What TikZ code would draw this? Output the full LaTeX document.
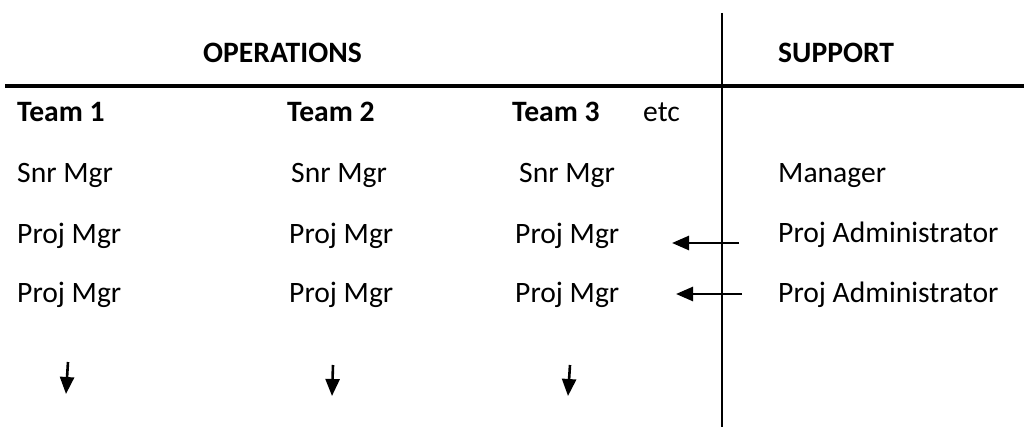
\documentclass[tikz,border=0pt]{standalone}
\usepackage{fontspec}
\setmainfont{Carlito}
\usetikzlibrary{arrows.meta}
\begin{document}
\begin{tikzpicture}[x=1pt,y=-1pt,
  lbl/.style={anchor=base west,inner sep=0pt,font=\fontsize{29.6}{34}\selectfont},
  hdr/.style={lbl,font=\fontsize{29.6}{34}\selectfont\bfseries},
  conn/.style={line width=2.6pt,-{Triangle[length=17pt,width=14pt]}}]
\useasboundingbox (0,0) rectangle (1024,427);
% dividers
\coordinate (vtop) at (722,13);
\coordinate (vbot) at (722,427);
\coordinate (hl) at (5,86);
\coordinate (hr) at (1024,86);
\draw[line width=1.2pt] (vtop) -- (vbot);
\draw[line width=4.2pt] (hl) -- (hr);
% headers
\node[hdr] (ops) at (203,63) {OPERATIONS};
\node[hdr] (sup) at (778,63) {SUPPORT};
\node[hdr] (t1) at (17,122) {Team 1};
\node[hdr] (t2) at (287,122) {Team 2};
\node[hdr] (t3) at (512,122) {Team 3};
\node[lbl] (etc) at (643,122) {etc};
% rows
\node[lbl] (s1) at (17,183) {Snr Mgr};
\node[lbl] (s2) at (291,183) {Snr Mgr};
\node[lbl] (s3) at (519,183) {Snr Mgr};
\node[lbl] (mgr) at (778,183) {Manager};
\node[lbl] (p11) at (17,244) {Proj Mgr};
\node[lbl] (p12) at (289,244) {Proj Mgr};
\node[lbl] (p13) at (515,244) {Proj Mgr};
\node[lbl] (pa1) at (778,243) {Proj Administrator};
\node[lbl] (p21) at (17,302) {Proj Mgr};
\node[lbl] (p22) at (289,302) {Proj Mgr};
\node[lbl] (p23) at (515,302) {Proj Mgr};
\node[lbl] (pa2) at (778,302) {Proj Administrator};
% arrow ends
\coordinate (a1s) at (739,243);
\coordinate (a1e) at (672,243);
\coordinate (a2s) at (742,294);
\coordinate (a2e) at (676,294);
\coordinate (d1s) at (68,362);
\coordinate (d1e) at (66,394);
\coordinate (d2s) at (333,365);
\coordinate (d2e) at (332,396);
\coordinate (d3s) at (570,365);
\coordinate (d3e) at (568,396);
\draw[conn] (a1s) -- (a1e);
\draw[conn] (a2s) -- (a2e);
\draw[conn] (d1s) -- (d1e);
\draw[conn] (d2s) -- (d2e);
\draw[conn] (d3s) -- (d3e);
\end{tikzpicture}
\end{document}
